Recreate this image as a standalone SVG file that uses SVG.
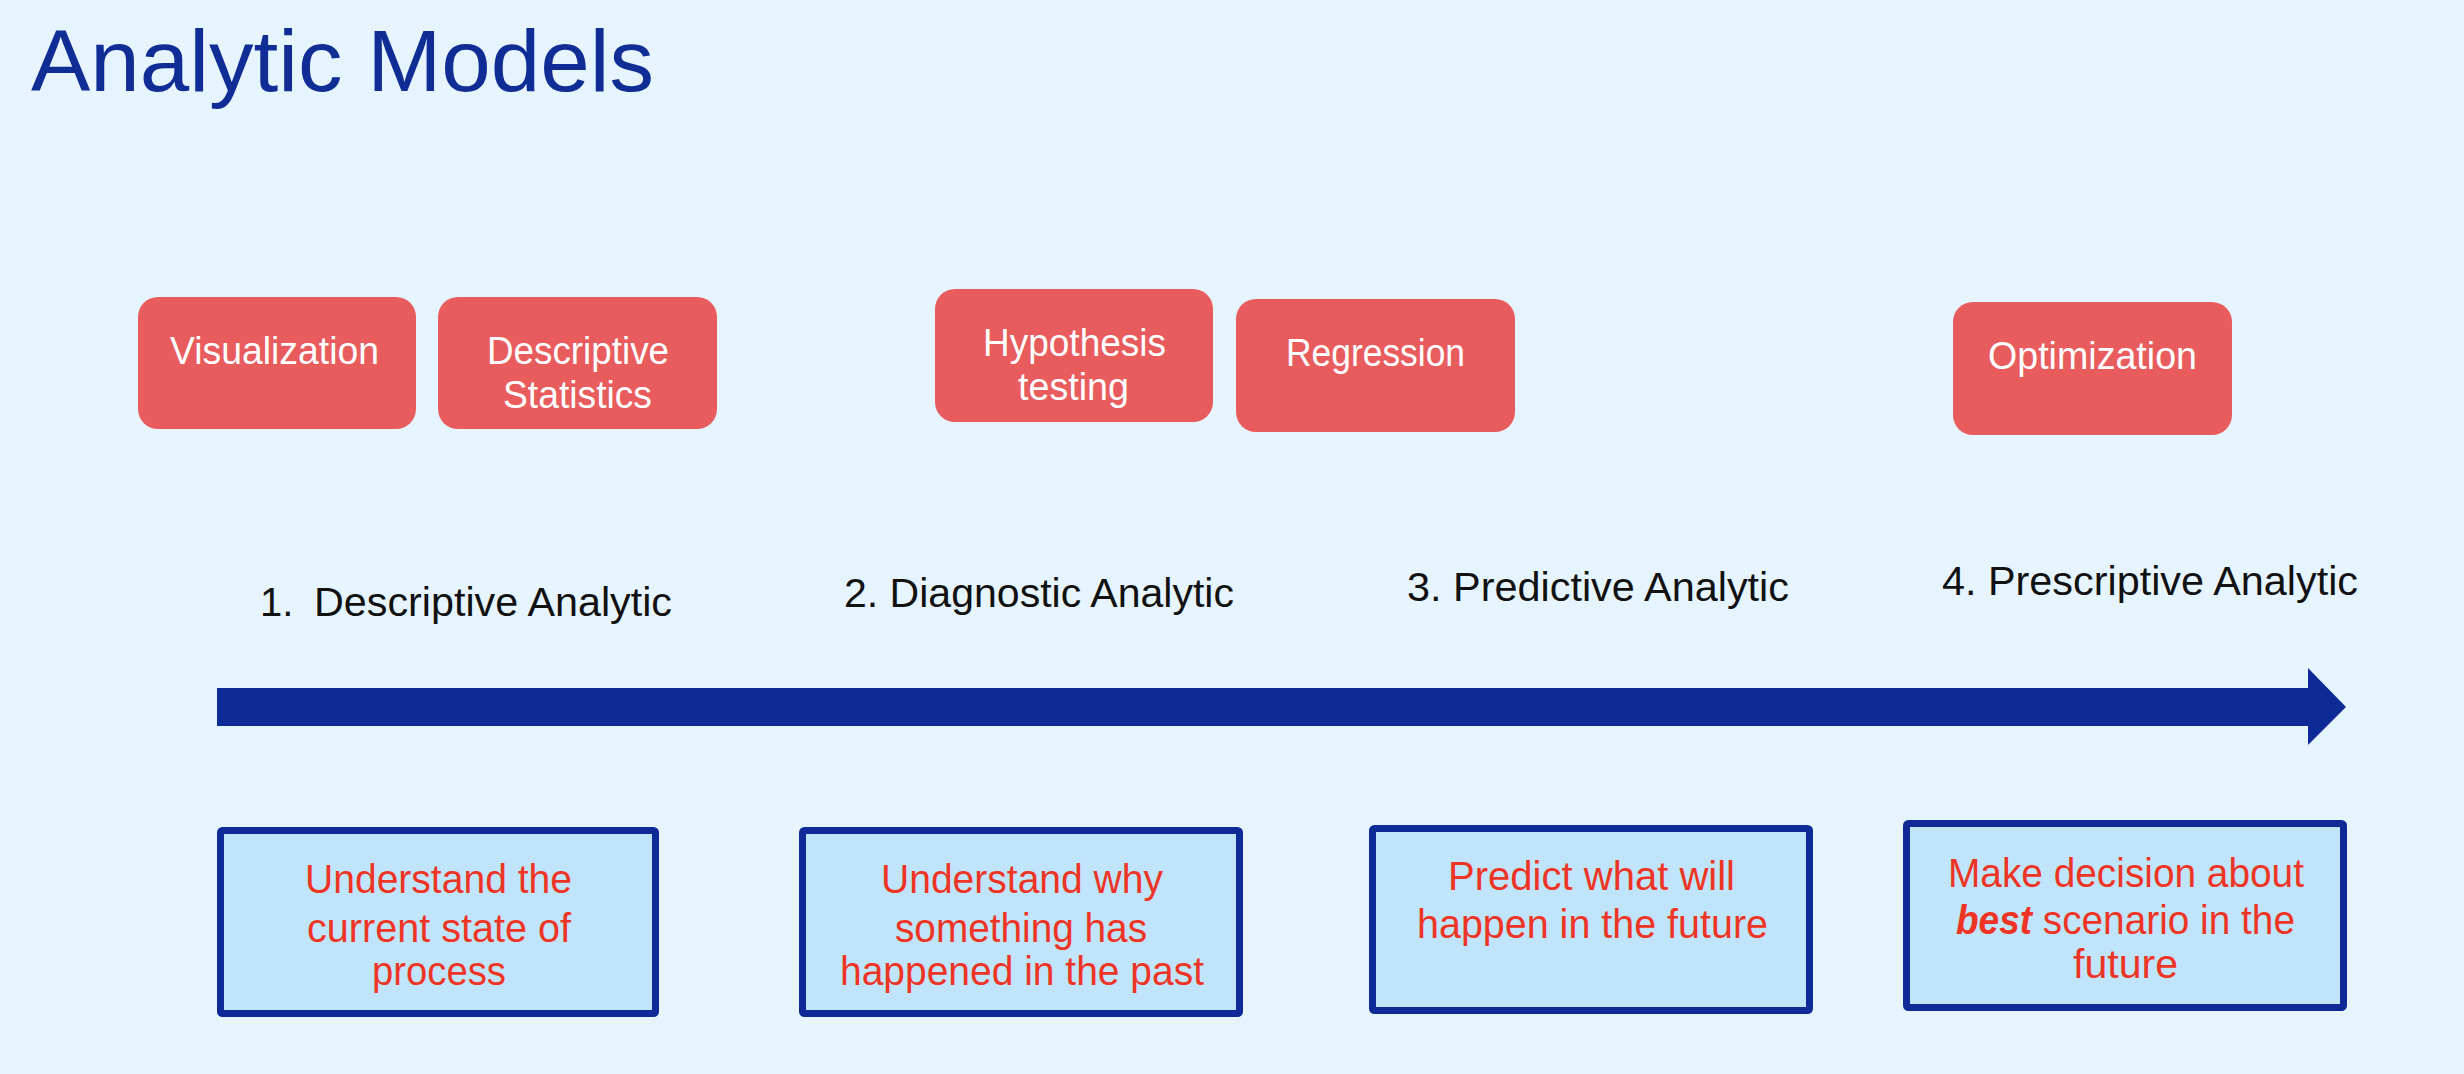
<svg xmlns="http://www.w3.org/2000/svg" width="2464" height="1074" viewBox="0 0 2464 1074">
<style>
text{font-family:"Liberation Sans",Arial,sans-serif;}
.title{font-size:87px;fill:#102D96;}
.tech rect{fill:#E85C5E;}
.tech text{font-size:38px;fill:#FFFFFF;}
.lbl{font-size:40px;fill:#111111;}
.desc rect{fill:#C0E4FA;stroke:#0E2A97;stroke-width:7;}
.desc text{font-size:40px;fill:#EE3424;}
.b{font-weight:bold;font-style:italic;}
</style>
<rect x="0" y="0" width="2464" height="1074" fill="#E6F4FE"/>
<text class="title" x="31" y="91" textLength="623" lengthAdjust="spacingAndGlyphs">Analytic Models</text>

<g id="connectors">
<polygon points="217,688 2308,688 2308,668 2346,707 2308,745 2308,726 217,726" fill="#0E2A97"/>
</g>

<g id="visualization" class="tech">
<rect x="138" y="297" width="278" height="132" rx="20"/>
<text x="170" y="364" textLength="209" lengthAdjust="spacingAndGlyphs">Visualization</text>
</g>
<g id="descriptive-statistics" class="tech">
<rect x="438" y="297" width="279" height="132" rx="20"/>
<text x="487" y="364" textLength="182" lengthAdjust="spacingAndGlyphs">Descriptive</text>
<text x="503" y="408" textLength="149" lengthAdjust="spacingAndGlyphs">Statistics</text>
</g>
<g id="hypothesis-testing" class="tech">
<rect x="935" y="289" width="278" height="133" rx="20"/>
<text x="983" y="356" textLength="183" lengthAdjust="spacingAndGlyphs">Hypothesis</text>
<text x="1018" y="400" textLength="111" lengthAdjust="spacingAndGlyphs">testing</text>
</g>
<g id="regression" class="tech">
<rect x="1236" y="299" width="279" height="133" rx="20"/>
<text x="1286" y="366" textLength="179" lengthAdjust="spacingAndGlyphs">Regression</text>
</g>
<g id="optimization" class="tech">
<rect x="1953" y="302" width="279" height="133" rx="20"/>
<text x="1988" y="369" textLength="209" lengthAdjust="spacingAndGlyphs">Optimization</text>
</g>

<g id="label-1">
<text class="lbl" y="616"><tspan x="260">1. </tspan><tspan x="314" textLength="358" lengthAdjust="spacingAndGlyphs">Descriptive Analytic</tspan></text>
</g>
<g id="label-2">
<text class="lbl" x="844" y="607" textLength="390" lengthAdjust="spacingAndGlyphs">2. Diagnostic Analytic</text>
</g>
<g id="label-3">
<text class="lbl" x="1407" y="601" textLength="382" lengthAdjust="spacingAndGlyphs">3. Predictive Analytic</text>
</g>
<g id="label-4">
<text class="lbl" x="1942" y="595" textLength="416" lengthAdjust="spacingAndGlyphs">4. Prescriptive Analytic</text>
</g>

<g id="desc-1" class="desc">
<rect x="220.5" y="830.5" width="435" height="183" rx="2"/>
<text x="305" y="893" textLength="267" lengthAdjust="spacingAndGlyphs">Understand the</text>
<text x="307" y="942" textLength="264" lengthAdjust="spacingAndGlyphs">current state of</text>
<text x="372" y="985" textLength="134" lengthAdjust="spacingAndGlyphs">process</text>
</g>
<g id="desc-2" class="desc">
<rect x="802.5" y="830.5" width="437" height="183" rx="2"/>
<text x="881" y="893" textLength="282" lengthAdjust="spacingAndGlyphs">Understand why</text>
<text x="895" y="942" textLength="252" lengthAdjust="spacingAndGlyphs">something has</text>
<text x="840" y="985" textLength="364" lengthAdjust="spacingAndGlyphs">happened in the past</text>
</g>
<g id="desc-3" class="desc">
<rect x="1372.5" y="828.5" width="437" height="182" rx="2"/>
<text x="1448" y="890" textLength="287" lengthAdjust="spacingAndGlyphs">Predict what will</text>
<text x="1417" y="938" textLength="351" lengthAdjust="spacingAndGlyphs">happen in the future</text>
</g>
<g id="desc-4" class="desc">
<rect x="1906.5" y="823.5" width="437" height="184" rx="2"/>
<text x="1948" y="887" textLength="356" lengthAdjust="spacingAndGlyphs">Make decision about</text>
<text y="934"><tspan class="b" x="1956" textLength="76" lengthAdjust="spacingAndGlyphs">best</tspan><tspan x="2032" textLength="263" lengthAdjust="spacingAndGlyphs"> scenario in the</tspan></text>
<text x="2073" y="978" textLength="105" lengthAdjust="spacingAndGlyphs">future</text>
</g>
</svg>
